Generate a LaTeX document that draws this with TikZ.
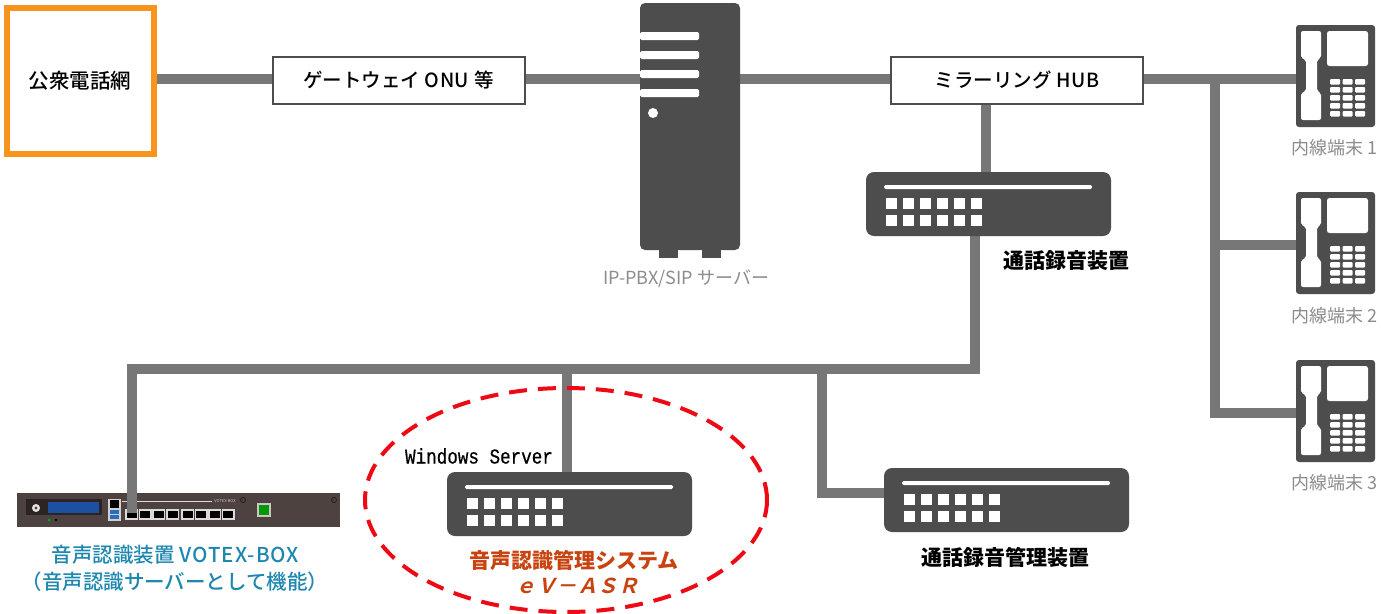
\documentclass[tikz,border=0pt]{standalone}
\usepackage{fontspec}
\usepackage{graphicx}
\usetikzlibrary{shapes.geometric,backgrounds}
\setmainfont{Noto Sans CJK JP}
\newfontfamily\winfont[FakeBold=0.6]{Liberation Mono}
\newfontfamily\medfont{Noto Sans CJK JP Medium}
\newfontfamily\slantfont[FakeSlant=0.25]{Noto Sans CJK JP Bold}
\definecolor{wire}{HTML}{777777}
\definecolor{dev}{HTML}{4D4D4D}
\definecolor{pubor}{HTML}{F7941D}
\definecolor{teal}{HTML}{1E87B0}
\definecolor{soft}{HTML}{8C8C8C}
\definecolor{asr}{HTML}{C8430F}
\definecolor{vbody}{HTML}{4E4240}
\definecolor{lcd}{HTML}{1F4FA3}
\definecolor{usbb}{HTML}{286EBE}
\definecolor{ringred}{HTML}{EE0A14}
\newcommand{\fs}[1]{\fontsize{#1}{#1}\selectfont}
\tikzset{
  wirepath/.style={draw=wire,line width=10pt},
  labelbox/.style={draw=dev,line width=2pt,fill=white,minimum width=252pt,minimum height=47pt,inner sep=0pt,font=\medfont\fs{19.5}},
  devbox/.style={fill=dev,rounded corners=8pt,minimum width=245pt,minimum height=64pt,inner sep=0pt},
  phonebox/.style={fill=dev,rounded corners=3pt,minimum width=79pt,minimum height=102pt,inner sep=0pt},
  txt/.style={inner sep=0pt,align=center},
  softtxt/.style={txt,text=soft,font=\fs{18}},
  boldtxt/.style={txt,font=\fs{21}\bfseries},
  ww/.style={fill=white}
}
% switch-type device: name, left, top
\newcommand{\switchdev}[3]{%
  \node[devbox] (#1) at (#2+122.5,#3+32) {};
  \begin{scope}[shift={(#2,#3)}]
    \fill[ww,rounded corners=1.5pt] (18,13) rectangle (226,17);
    \foreach \i in {0,...,5} {
      \fill[ww] (20+17*\i,26) rectangle +(11,11);
      \fill[ww] (20+17*\i,43) rectangle +(11,11);
    }
  \end{scope}}
% telephone: name, left, top
\newcommand{\phonedev}[3]{%
  \node[phonebox] (#1) at (#2+39.5,#3+51) {};
  \begin{scope}[shift={(#2,#3)}]
    \fill[ww,rounded corners=2pt] (5,6) -- (25,6) -- (25,33) -- (21,35) -- (21,66) -- (25,68) -- (25,95) -- (5,95) -- (5,68) -- (10,66) -- (10,35) -- (5,33) -- cycle;
    \fill[ww,rounded corners=2.5pt] (31,6) rectangle (72,41);
    \foreach \r in {0,...,4} \foreach \c in {0,1,2} {
      \fill[ww,rounded corners=1pt] (34+12.5*\c,54+8*\r) rectangle +(10,5.5);
    }
  \end{scope}}
\begin{document}
\begin{tikzpicture}[x=1pt,y=-1pt]
\useasboundingbox (0,0) rectangle (1381,613);

% public network
\node[draw=pubor,line width=6pt,fill=white,minimum width=147pt,minimum height=146pt,inner sep=0pt,font=\medfont\fs{20.5}] (pub) at (80,81) {公衆電話網};
\node[labelbox] (gw) at (398.5,80) {ゲートウェイ\ \addfontfeature{LetterSpace=3}ONU\ \addfontfeature{LetterSpace=0}等};
\node[labelbox] (hub) at (1017,80) {ミラーリング\ \addfontfeature{LetterSpace=3}HUB};

% IP-PBX server
\fill[dev] (659,248) rectangle (678,258);
\fill[dev] (702,248) rectangle (721,258);
\node[fill=dev,rounded corners=5pt,minimum width=100pt,minimum height=247pt,inner sep=0pt] (pbx) at (690,126.5) {};
\foreach \y in {32,51,70,89} {
  \fill[ww,rounded corners=1.5pt] (640,\y) -- (699,\y) -- (699,\y+8) -- (640,\y+8) -- cycle;
}
\fill[ww] (653,113) circle (5);
\node[softtxt] (pbxl) at (686,279) {IP-PBX/SIP サーバー};

% recorders and management
\switchdev{rec}{866}{172}
\switchdev{mgr}{884}{468}
\switchdev{asrd}{447}{472}
\node[boldtxt] (recl) at (1066,261) {通話録音装置};
\node[boldtxt] (mgrl) at (1005,557) {通話録音管理装置};

% phones
\phonedev{ph1}{1296}{25}
\phonedev{ph2}{1296}{192}
\phonedev{ph3}{1296}{360}
\node[softtxt] (ph1l) at (1334,148) {内線端末 1};
\node[softtxt] (ph2l) at (1334,316) {内線端末 2};
\node[softtxt] (ph3l) at (1334,483) {内線端末 3};

% VOTEX-BOX
\node[fill=vbody,minimum width=323pt,minimum height=34pt,inner sep=0pt] (vbox) at (178.5,510) {};
\fill[black!45!vbody] (26,499) rectangle (102,515);
\fill[lcd] (48,502) rectangle (99,513);
\fill[white!85!vbody] (36,508) circle (4);
\fill[vbody] (36,508) circle (1.6);
\fill[green!70!black] (49,520) circle (1.5);
\fill[black] (56,520) circle (1.3);
\fill[white!75!vbody] (108,498.5) rectangle (121,520.5);
\fill[black] (110,500) rectangle (119,508);
\fill[usbb] (110,509.5) rectangle (119,513.5);
\fill[usbb] (110,515) rectangle (119,519);
\draw[white!80!vbody,line width=1pt] (122,501) -- (212,501);
\foreach \x in {126,139.5,153,167,182,195.5,209,222.5} {
  \fill[white!80!vbody] (\x-1,508.5) rectangle (\x+12,519.5);
  \fill[black] (\x+0.5,510.5) rectangle (\x+10.5,518);
}
\coordinate (vport) at (132,513);
\node[txt,text=white!70!vbody,font=\fs{4}] (vname) at (225,501) {VOTEX-BOX};
\draw[black!60!vbody,line width=.8pt] (243,500) circle (2.5);
\draw[black!60!vbody,line width=.8pt] (334,500) circle (2.5);
\fill[white!70!vbody] (257,503) rectangle (271,517);
\fill[green!60!black] (259,505) rectangle (269,515);
\node[txt,text=teal,font=\medfont\fs{20.5}] (vl1) at (175.5,555) {音声認識装置\ \addfontfeature{LetterSpace=5}VOTEX-BOX};
\node[txt,text=teal,font=\medfont\fs{20.5}] (vl2) at (175,582) {（音声認識サーバーとして機能）};

% eV-ASR labels
\node[txt,font=\winfont\fs{17.6}] (win) at (479,456) {\scalebox{1}[1.2]{Windows Server}};
\node[txt,text=asr,font=\fs{21}\bfseries] (asrl) at (574,560) {音声認識管理システム};
\node[txt,text=asr,font=\slantfont\fs{20.5}] (asrn) at (577,586) {ｅＶ－ＡＳＲ};

% junctions
\coordinate (jt) at (1215,79);
\coordinate (j2) at (1215,245);
\coordinate (j3) at (1215,413);
\coordinate (ha) at (986,104);
\coordinate (hb) at (986,172);
\coordinate (ra) at (975,236);
\coordinate (bus) at (975,369);
\coordinate (busl) at (132,369);
\coordinate (busa) at (567,369);
\coordinate (busm) at (822,369);
\coordinate (mj) at (822,493);

\begin{scope}[on background layer]
  \fill[white] (0,0) rectangle (1381,613);
  \draw[wirepath] (pub.east |- jt) -- (gw.west |- jt);
  \draw[wirepath] (gw.east |- jt) -- (pbx.west |- jt);
  \draw[wirepath] (pbx.east |- jt) -- (hub.west |- jt);
  \draw[wirepath] (hub.east |- jt) -- (ph1.west |- jt);
  \draw[wirepath,line cap=rect] (jt) -- (j3);
  \draw[wirepath] (j2) -- (j2 -| ph2.west);
  \draw[wirepath] (j3) -- (j3 -| ph3.west);
  \draw[wirepath] (ha) -- (hb);
  \draw[wirepath] (ra) -- (bus);
  \draw[wirepath,line cap=rect] (bus) -- (busl);
  \draw[wirepath] (busa) -- (busa |- asrd.north);
  \draw[wirepath] (busm) -- (mj) -- (mj -| mgr.west);
\end{scope}
\draw[wirepath,line cap=butt] (busl) -- (vport);

% dashed ellipse
\node[draw=ringred,line width=4pt,dash pattern=on 18pt off 11pt,ellipse,minimum width=402pt,minimum height=224pt,inner sep=0pt] (ring) at (566,500) {};
\end{tikzpicture}
\end{document}
